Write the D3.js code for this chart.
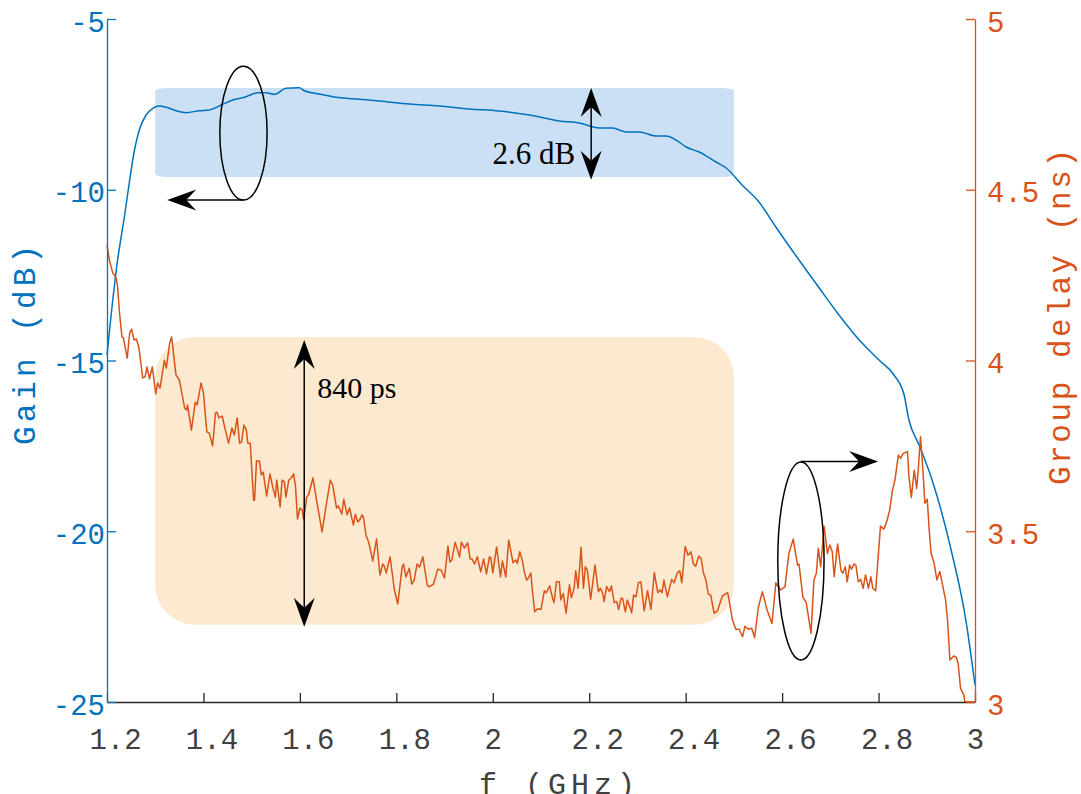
<!DOCTYPE html>
<html>
<head>
<meta charset="utf-8">
<script src="https://cdn.jsdelivr.net/npm/d3@7"></script>
<style>
body { margin: 0; background: #fff; }
svg { display: block; }
</style>
</head>
<body>
<svg id="chart" width="1081" height="794"></svg>
<script>
// axis ticks
var freqTicks = [1.2, 1.4, 1.6, 1.8, 2, 2.2, 2.4, 2.6, 2.8, 3];
var gainTicks = [-25, -20, -15, -10, -5];
var delayTicks = [3, 3.5, 4, 4.5, 5];

// gain trace (GHz, dB)
var gainFreq = [1.200,1.222,1.226,1.236,1.247,1.257,1.267,1.281,1.295,1.309,1.323,1.343,1.364,1.392,1.412,1.437,1.461,1.485,1.513,1.530,1.547,1.571,1.599,1.609,1.640,1.668,1.723,1.765,1.827,1.889,1.951,2.013,2.076,2.138,2.179,2.221,2.248,2.277,2.304,2.339,2.360,2.380,2.401,2.428,2.463,2.484,2.517,2.552,2.587,2.635,2.677,2.718,2.760,2.801,2.832,2.853,2.863,2.884,2.911,2.952,2.981,3.000];
var gainDb = [-14.839,-12.057,-11.677,-10.798,-9.715,-8.836,-8.250,-7.811,-7.615,-7.548,-7.586,-7.685,-7.744,-7.685,-7.665,-7.518,-7.372,-7.293,-7.158,-7.158,-7.205,-7.029,-7.012,-7.100,-7.196,-7.275,-7.351,-7.401,-7.489,-7.548,-7.635,-7.694,-7.811,-7.987,-8.045,-8.192,-8.192,-8.309,-8.309,-8.426,-8.426,-8.543,-8.748,-8.895,-9.187,-9.363,-9.861,-10.359,-11.091,-12.057,-12.877,-13.668,-14.400,-14.985,-15.425,-16.010,-16.742,-17.475,-18.499,-20.637,-22.599,-24.503];

// group delay trace (GHz, ns)
var delayFreq = [
1.200,1.205,1.212,1.219,1.222,1.226,1.231,1.234,1.242,1.247,
1.251,1.256,1.261,1.266,1.274,1.279,1.283,1.288,1.294,1.301,
1.305,1.310,1.319,1.323,1.330,1.334,1.343,1.350,1.361,1.365,
1.367,1.375,1.383,1.387,1.395,1.400,1.407,1.412,1.419,1.425,
1.428,1.432,1.439,1.444,1.452,1.459,1.464,1.470,1.475,1.479,
1.484,1.489,1.492,1.497,1.504,1.506,1.510,1.516,1.520,1.524,
1.531,1.538,1.544,1.549,1.552,1.559,1.563,1.568,1.571,1.577,
1.582,1.587,1.591,1.595,1.600,1.605,1.608,1.614,1.618,1.627,
1.637,1.646,1.654,1.663,1.668,1.676,1.680,1.687,1.691,1.698,
1.703,1.711,1.715,1.720,1.725,1.729,1.732,1.737,1.743,1.751,
1.759,1.766,1.772,1.775,1.779,1.787,1.796,1.803,1.812,1.815,
1.820,1.827,1.832,1.837,1.843,1.848,1.855,1.864,1.868,1.877,
1.886,1.893,1.900,1.907,1.911,1.915,1.922,1.931,1.935,1.941,
1.948,1.953,1.957,1.962,1.968,1.975,1.981,1.987,1.993,1.996,
2.000,2.008,2.016,2.020,2.027,2.033,2.042,2.048,2.051,2.056,
2.062,2.065,2.070,2.074,2.079,2.082,2.087,2.093,2.100,2.107,
2.111,2.118,2.124,2.127,2.132,2.138,2.141,2.146,2.152,2.159,
2.163,2.169,2.172,2.177,2.183,2.188,2.192,2.196,2.203,2.212,
2.219,2.223,2.228,2.231,2.236,2.242,2.246,2.252,2.257,2.261,
2.266,2.269,2.275,2.279,2.284,2.288,2.292,2.297,2.302,2.307,
2.314,2.321,2.328,2.335,2.342,2.347,2.351,2.355,2.362,2.371,
2.376,2.383,2.388,2.392,2.399,2.405,2.411,2.416,2.421,2.427,
2.432,2.437,2.442,2.447,2.452,2.459,2.466,2.476,2.482,2.487,
2.490,2.497,2.504,2.511,2.518,2.523,2.530,2.537,2.543,2.551,
2.559,2.569,2.579,2.587,2.597,2.606,2.614,2.623,2.632,2.635,
2.643,2.650,2.660,2.666,2.671,2.675,2.680,2.687,2.694,2.699,
2.704,2.708,2.715,2.722,2.726,2.731,2.735,2.740,2.744,2.749,
2.753,2.758,2.763,2.768,2.773,2.779,2.784,2.788,2.794,2.804,
2.811,2.818,2.823,2.829,2.834,2.841,2.846,2.851,2.860,2.863,
2.868,2.874,2.879,2.882,2.887,2.892,2.896,2.901,2.905,2.909,
2.915,2.921,2.927,2.939,2.943,2.948,2.956,2.961,2.965,2.970,
2.977,2.979,3.000];
var delayNs = [
4.338,4.294,4.256,4.242,4.215,4.139,4.069,4.066,4.007,4.080,
4.092,4.060,4.063,4.039,3.949,3.952,3.981,3.946,3.981,3.902,
3.934,3.919,4.001,3.978,4.051,4.069,3.958,3.943,3.861,3.855,
3.870,3.796,3.878,3.870,3.934,3.905,3.791,3.788,3.750,3.846,
3.849,3.832,3.837,3.805,3.758,3.802,3.782,3.832,3.758,3.761,
3.811,3.796,3.758,3.758,3.591,3.591,3.706,3.706,3.665,3.673,
3.603,3.668,3.627,3.600,3.650,3.571,3.650,3.644,3.600,3.650,
3.656,3.668,3.630,3.536,3.568,3.562,3.533,3.600,3.606,3.656,
3.571,3.498,3.571,3.650,3.635,3.568,3.574,3.550,3.594,3.548,
3.568,3.518,3.550,3.527,3.536,3.548,3.539,3.489,3.466,3.413,
3.477,3.372,3.404,3.398,3.378,3.425,3.328,3.287,3.395,3.404,
3.366,3.392,3.345,3.357,3.404,3.395,3.425,3.343,3.337,3.345,
3.389,3.386,3.363,3.457,3.410,3.416,3.468,3.425,3.468,3.451,
3.466,3.419,3.419,3.404,3.425,3.381,3.419,3.375,3.425,3.422,
3.378,3.454,3.366,3.413,3.366,3.474,3.408,3.416,3.406,3.440,
3.411,3.384,3.357,3.363,3.378,3.328,3.264,3.273,3.271,3.326,
3.320,3.340,3.304,3.291,3.352,3.352,3.299,3.318,3.260,3.343,
3.305,3.336,3.384,3.333,3.453,3.333,3.396,3.386,3.301,3.401,
3.323,3.333,3.318,3.294,3.338,3.323,3.340,3.291,3.294,3.271,
3.304,3.304,3.264,3.299,3.279,3.261,3.313,3.308,3.349,3.352,
3.267,3.326,3.271,3.379,3.320,3.328,3.320,3.357,3.308,3.359,
3.349,3.379,3.384,3.349,3.455,3.430,3.440,3.404,3.398,3.427,
3.421,3.377,3.357,3.316,3.313,3.260,3.267,3.310,3.316,3.320,
3.299,3.240,3.213,3.213,3.191,3.222,3.213,3.216,3.189,3.279,
3.323,3.269,3.230,3.349,3.328,3.338,3.435,3.477,3.401,3.404,
3.308,3.291,3.201,3.357,3.377,3.450,3.396,3.515,3.435,3.460,
3.440,3.367,3.463,3.386,3.377,3.396,3.352,3.401,3.389,3.404,
3.401,3.352,3.359,3.333,3.372,3.333,3.367,3.333,3.326,3.515,
3.506,3.533,3.562,3.621,3.650,3.723,3.714,3.728,3.733,3.660,
3.599,3.679,3.626,3.674,3.777,3.679,3.582,3.594,3.504,3.435,
3.408,3.357,3.382,3.299,3.240,3.123,3.135,3.131,3.113,3.040,
3.020,3.000,3.000];

// highlighted bands: passband and ripple limits
var bandFreq = [1.3, 2.5];
var gainBand = [-9.63, -7.02];
var delayBand = [3.226, 4.069];

var blue = "#0072BD", orange = "#D95319", dark = "#262626";
var mono = "'Liberation Mono', 'DejaVu Sans Mono', monospace";
var serif = "'Liberation Serif', 'DejaVu Serif', serif";

var plotLeft = 107, plotRight = 975, plotTop = 19, plotBottom = 702;

var svg = d3.select("#chart");
var x = d3.scaleLinear().domain([1.2, 3]).range([plotLeft, plotRight]);
var yGain = d3.scaleLinear().domain([-25, -5]).range([plotBottom, plotTop]);
var yDelay = d3.scaleLinear().domain([3, 5]).range([plotBottom, plotTop]);

// shaded regions
svg.append("rect")
  .attr("x", x(bandFreq[0])).attr("width", x(bandFreq[1]) - x(bandFreq[0]))
  .attr("y", yGain(gainBand[1])).attr("height", yGain(gainBand[0]) - yGain(gainBand[1]))
  .attr("rx", 14).attr("ry", 3)
  .attr("fill", "#cce0f5");
svg.append("rect")
  .attr("x", x(bandFreq[0])).attr("width", x(bandFreq[1]) - x(bandFreq[0]))
  .attr("y", yDelay(delayBand[1])).attr("height", yDelay(delayBand[0]) - yDelay(delayBand[1]))
  .attr("rx", 40).attr("ry", 40)
  .attr("fill", "#fce9cf");

// traces
var gainLine = d3.line()
  .x(function(d, i) { return x(gainFreq[i]); })
  .y(function(d) { return yGain(d); })
  .curve(d3.curveMonotoneX);
svg.append("path").datum(gainDb)
  .attr("d", gainLine)
  .attr("fill", "none").attr("stroke", blue).attr("stroke-width", 1.5);

var delayLine = d3.line()
  .x(function(d, i) { return x(delayFreq[i]); })
  .y(function(d) { return yDelay(d); });
svg.append("path").datum(delayNs)
  .attr("d", delayLine)
  .attr("fill", "none").attr("stroke", orange).attr("stroke-width", 1.5)
  .attr("stroke-linejoin", "round");

// axes
var gx = svg.append("g").attr("transform", "translate(0," + plotBottom + ")")
  .call(d3.axisBottom(x).tickValues(freqTicks).tickSizeInner(-9).tickSizeOuter(0)
    .tickPadding(26).tickFormat(String));
gx.select(".domain").attr("stroke", dark).attr("stroke-width", 1.3);
gx.selectAll(".tick line").attr("stroke", dark).attr("stroke-width", 1.3);
gx.selectAll(".tick text")
  .attr("fill", "#404040").attr("font-family", mono).attr("font-size", 29)
  .attr("dx", function(d) { return String(d).length > 1 ? 8 : 0; });

var gl = svg.append("g").attr("transform", "translate(" + plotLeft + ",0)")
  .call(d3.axisLeft(yGain).tickValues(gainTicks).tickSizeInner(-9).tickSizeOuter(0)
    .tickPadding(2).tickFormat(String));
gl.select(".domain").attr("stroke", blue).attr("stroke-width", 1.3);
gl.selectAll(".tick line").attr("stroke", blue).attr("stroke-width", 1.3);
gl.selectAll(".tick text")
  .attr("fill", blue).attr("font-family", mono).attr("font-size", 29).attr("dy", "0.42em");

var gr = svg.append("g").attr("transform", "translate(" + plotRight + ",0)")
  .call(d3.axisRight(yDelay).tickValues(delayTicks).tickSizeInner(-9).tickSizeOuter(0)
    .tickPadding(12).tickFormat(String));
gr.select(".domain").attr("stroke", orange).attr("stroke-width", 1.3);
gr.selectAll(".tick line").attr("stroke", orange).attr("stroke-width", 1.3);
gr.selectAll(".tick text")
  .attr("fill", orange).attr("font-family", mono).attr("font-size", 29).attr("dy", "0.42em");

// axis titles
svg.append("text")
  .attr("x", 557).attr("y", 794)
  .attr("text-anchor", "middle")
  .attr("font-family", mono).attr("font-size", 30).attr("fill", "#404040")
  .attr("textLength", 156).attr("lengthAdjust", "spacing")
  .text("f (GHz)");
svg.append("text")
  .attr("transform", "translate(35,345) rotate(-90)")
  .attr("text-anchor", "middle")
  .attr("font-family", mono).attr("font-size", 31).attr("fill", blue)
  .attr("textLength", 200).attr("lengthAdjust", "spacing")
  .text("Gain (dB)");
svg.append("text")
  .attr("transform", "translate(1070,317) rotate(-90)")
  .attr("text-anchor", "middle")
  .attr("font-family", mono).attr("font-size", 31).attr("fill", orange)
  .attr("textLength", 336).attr("lengthAdjust", "spacing")
  .text("Group delay (ns)");

// annotations
var ann = svg.append("g").attr("stroke", "black").attr("fill", "none").attr("stroke-width", 1.5);

function head(px, py, angle) {
  // concave arrow head, tip at px,py pointing along angle (deg)
  svg.append("path")
    .attr("d", "M0,0L-29,-10.5L-19,0L-29,10.5Z")
    .attr("transform", "translate(" + px + "," + py + ") rotate(" + angle + ")")
    .attr("fill", "black");
}
function arrow(x1, y1, x2, y2, both) {
  var a = Math.atan2(y2 - y1, x2 - x1) * 180 / Math.PI;
  var dx = Math.cos(a * Math.PI / 180) * 19, dy = Math.sin(a * Math.PI / 180) * 19;
  ann.append("line")
    .attr("x1", both ? x1 + dx : x1).attr("y1", both ? y1 + dy : y1)
    .attr("x2", x2 - dx).attr("y2", y2 - dy);
  head(x2, y2, a);
  if (both) head(x1, y1, a + 180);
}

// gain side marker
ann.append("ellipse")
  .attr("cx", x(1.483)).attr("cy", yGain(-8.34))
  .attr("rx", x(1.483) - x(1.434)).attr("ry", Math.abs(yGain(-10.30) - yGain(-8.34)));
arrow(x(1.483), yGain(-10.30), x(1.325), yGain(-10.30));

// delay side marker
ann.append("ellipse")
  .attr("cx", x(2.639)).attr("cy", yDelay(3.413))
  .attr("rx", x(2.639) - x(2.591)).attr("ry", Math.abs(yDelay(3.123) - yDelay(3.413)));
arrow(x(2.639), yDelay(3.704), x(2.799), yDelay(3.704));

// ripple arrows
arrow(x(2.204), yGain(-7.02), x(2.204), yGain(-9.71), true);
arrow(x(1.609), yDelay(4.06), x(1.609), yDelay(3.22), true);

svg.append("text")
  .attr("x", x(2.171)).attr("y", yGain(-9.246))
  .attr("text-anchor", "end")
  .attr("font-family", serif).attr("font-size", 31).attr("fill", "black")
  .text("2.6 dB");
svg.append("text")
  .attr("x", x(1.636)).attr("y", yDelay(3.89))
  .attr("font-family", serif).attr("font-size", 30).attr("fill", "black")
  .text("840 ps");
</script>
</body>
</html>
